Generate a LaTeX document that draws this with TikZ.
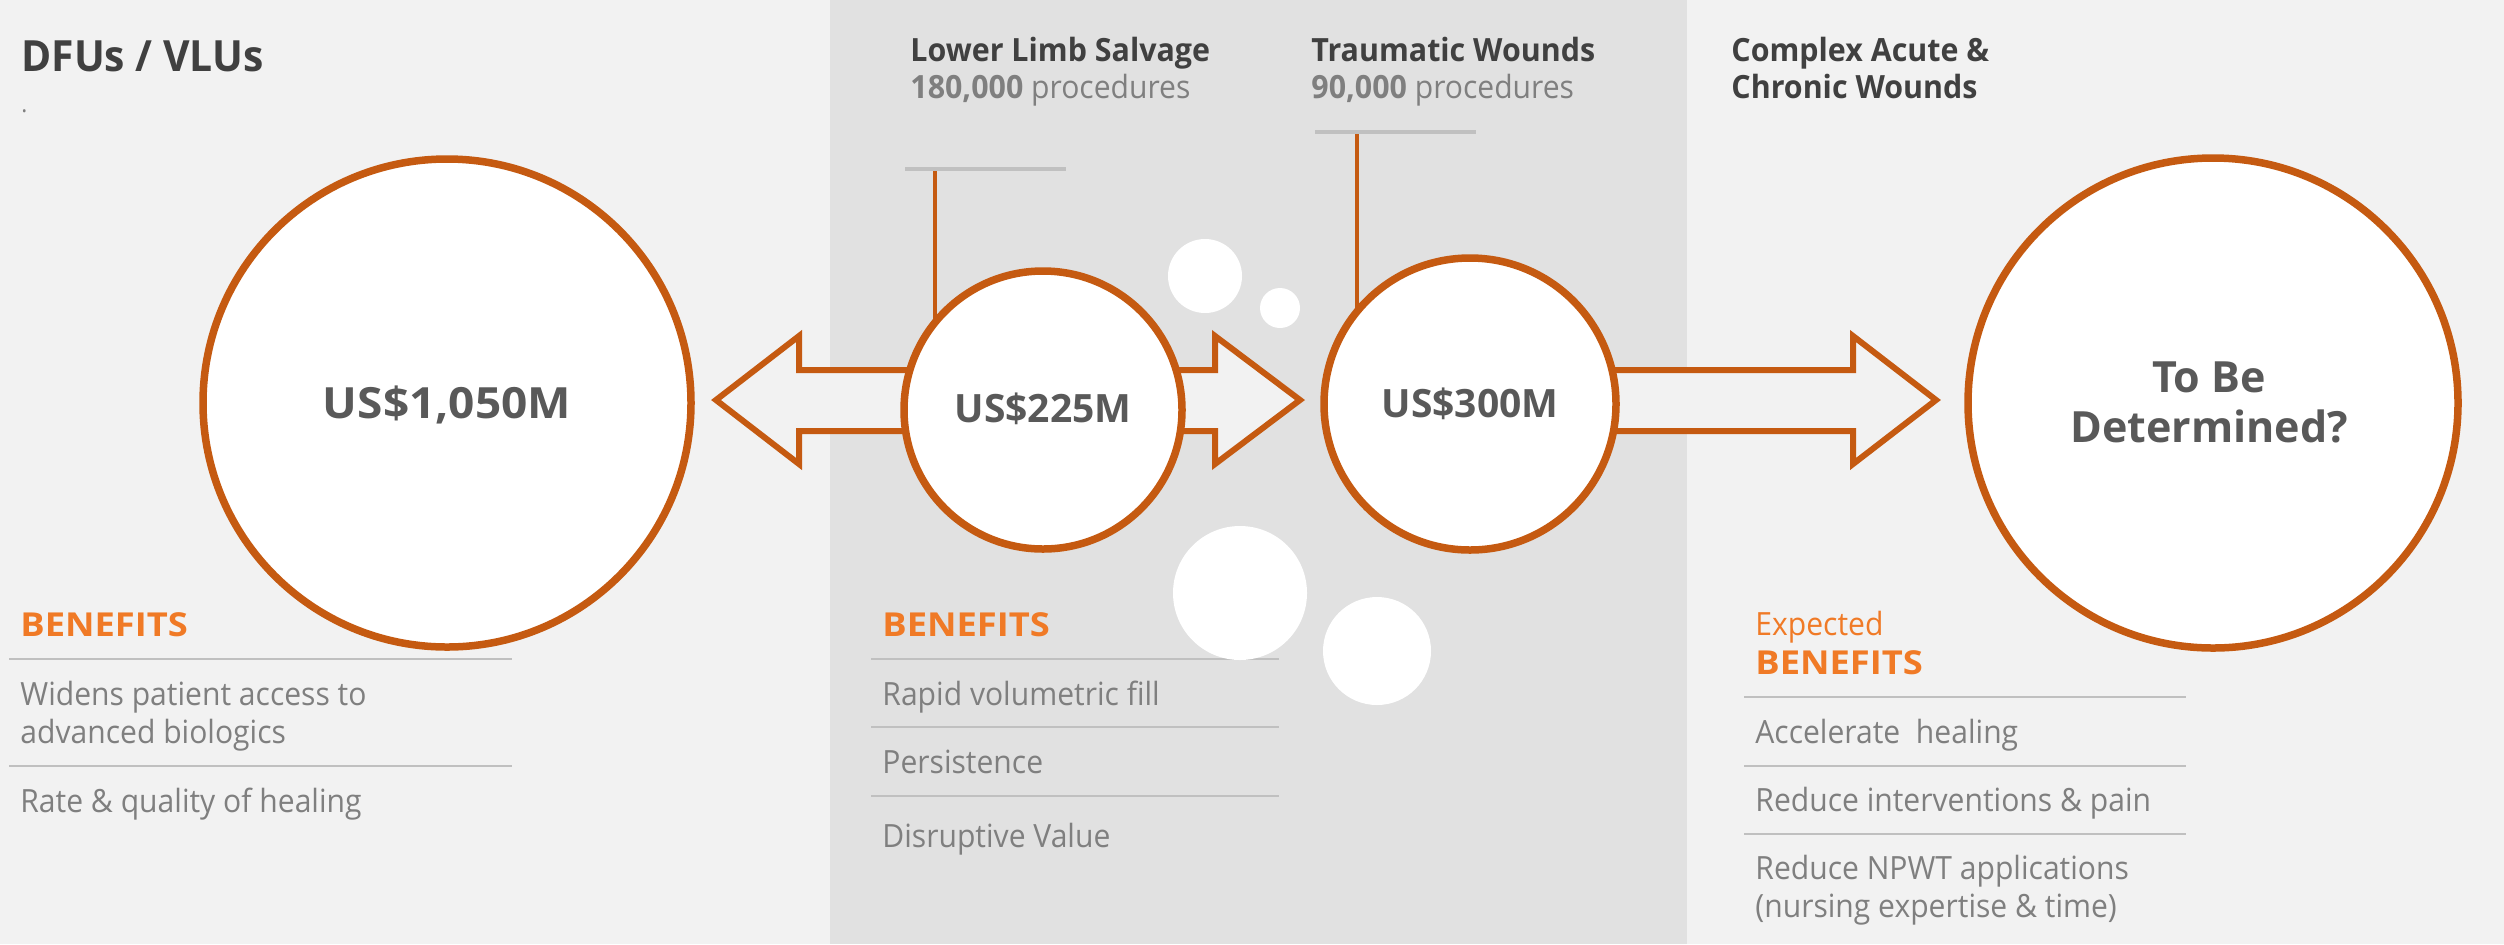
\documentclass[tikz,border=0pt]{standalone}
\usepackage{fontspec}
\setmainfont{Open Sans}
\newfontfamily\bodyf[FakeStretch=0.94]{Open Sans}
\newfontfamily\headf[FakeStretch=0.95]{Open Sans}
\newfontfamily\benf[FakeStretch=1.1]{Open Sans}
\newfontfamily\valf{Open Sans}
\newfontfamily\valwf[FakeStretch=1.07]{Open Sans}
\definecolor{bg}{HTML}{F2F2F2}
\definecolor{band}{HTML}{E1E1E1}
\definecolor{ora}{HTML}{C55A11}
\definecolor{orl}{HTML}{F07A26}
\definecolor{dk}{HTML}{404040}
\definecolor{val}{HTML}{595959}
\definecolor{gr}{HTML}{7F7F7F}
\definecolor{rl}{HTML}{C0C0C0}
\pgfdeclarelayer{back}
\pgfsetlayers{back,main}
\tikzset{
  ring/.style={circle, draw=ora, line width=3.75pt, fill=white, inner sep=0pt},
  bubble/.style={circle, fill=white, inner sep=0pt},
  heading/.style={anchor=base west, inner sep=0pt, text=dk, font=\headf\bfseries\fontsize{16pt}{19pt}\selectfont},
  title/.style={anchor=base west, inner sep=0pt, text=dk, font=\headf\bfseries\fontsize{21.5pt}{25pt}\selectfont},
  body/.style={anchor=base west, inner sep=0pt, text=gr, font=\bodyf\fontsize{16pt}{19pt}\selectfont},
  benef/.style={anchor=base west, inner sep=0pt, text=orl, font=\benf\bfseries\fontsize{16.5pt}{19pt}\selectfont},
  expect/.style={anchor=base west, inner sep=0pt, text=orl, font=\bodyf\fontsize{16pt}{19pt}\selectfont},
  rulel/.style={draw=rl, line width=1.4pt},
  bigval/.style={anchor=base, inner sep=0pt, text=val, font=\valf\bfseries\fontsize{21.5pt}{25pt}\selectfont},
  smallval/.style={anchor=base, inner sep=0pt, text=val, font=\valf\bfseries\fontsize{19.5pt}{23pt}\selectfont},
  bigarrow/.style={draw=ora, line width=3pt, fill=bg, line join=miter},
  stem/.style={draw=ora, line width=2pt},
  tbar/.style={draw=rl, line width=2pt}
}
\begin{document}
\begin{tikzpicture}[x=0.5pt,y=-0.5pt]
\useasboundingbox (0,0) rectangle (2504,944);

% circles
\node[ring, minimum size=244pt] (c1) at (447,403) {};
\node[ring, minimum size=139pt] (c2) at (1043,410) {};
\node[ring, minimum size=146pt] (c3) at (1470,404) {};
\node[ring, minimum size=245pt] (c4) at (2213,403) {};

% values
\node[bigval, font=\valwf\bfseries\fontsize{21.5pt}{25pt}\selectfont] (v1) at (447,418) {US\$1,050M};
\node[smallval] (v2) at (1043,422) {US\$225M};
\node[smallval] (v3) at (1470,417) {US\$300M};
\node[bigval] (v4a) at (2209,392) {To Be};
\node[bigval] (v4b) at (2209,442) {Determined?};

% bubbles
\node[bubble, minimum size=37pt] (u1) at (1205,276) {};
\node[bubble, minimum size=20pt] (u2) at (1280,308) {};
\node[bubble, minimum size=67pt] (u3) at (1240,593) {};
\node[bubble, minimum size=54pt] (u4) at (1377,651) {};

% T-bars
\coordinate (b1l) at (905,169);
\coordinate (b1r) at (1066,169);
\coordinate (b1) at (935,171);
\coordinate (b2l) at (1315,132);
\coordinate (b2r) at (1476,132);
\coordinate (b2) at (1357,134);

% texts top
\node[title] (t1) at (21,71) {DFUs / VLUs};
\node[body, font=\bodyf\fontsize{12pt}{14pt}\selectfont] (t1dot) at (21,112) {.};
\node[heading] (t2) at (910,61) {Lower Limb Salvage};
\node[body] (t2n) at (910,98) {{\headf\bfseries 180,000} procedures};
\node[heading] (t3) at (1311,61) {Traumatic Wounds};
\node[body] (t3n) at (1311,98) {{\headf\bfseries 90,000} procedures};
\node[heading] (t4) at (1731,61) {Complex Acute \&};
\node[heading] (t4b) at (1731,98) {Chronic Wounds};

% benefits left
\node[benef] (l0) at (20,636) {BENEFITS};
\node[body] (l1) at (20,705) {Widens patient access to};
\node[body] (l1b) at (20,743) {advanced biologics};
\node[body] (l2) at (20,812) {Rate \& quality of healing};

% benefits middle
\node[benef] (m0) at (882,636) {BENEFITS};
\node[body] (m1) at (882,705) {Rapid volumetric fill};
\node[body] (m2) at (882,773) {Persistence};
\node[body] (m3) at (882,847) {Disruptive Value};

% benefits right
\node[expect] (r0a) at (1755,635) {Expected};
\node[benef] (r0) at (1755,674) {BENEFITS};
\node[body] (r1) at (1755,743) {Accelerate\ \ healing};
\node[body] (r2) at (1755,811) {Reduce interventions \& pain};
\node[body] (r3) at (1755,879) {Reduce NPWT applications};
\node[body] (r3b) at (1755,917) {(nursing expertise \& time)};

\begin{pgfonlayer}{back}
  \fill[bg] (0,0) rectangle (2504,944);
  \fill[band] (830,0) rectangle (1687,944);
  % rules
  \draw[rulel] (9,659) -- (512,659);
  \draw[rulel] (9,766) -- (512,766);
  \draw[rulel] (871,659) -- (1279,659);
  \draw[rulel] (871,727) -- (1279,727);
  \draw[rulel] (871,796) -- (1279,796);
  \draw[rulel] (1744,697) -- (2186,697);
  \draw[rulel] (1744,766) -- (2186,766);
  \draw[rulel] (1744,834) -- (2186,834);
  % block arrows
  \draw[bigarrow] (716,400) -- (799,336) -- (799,370) -- (1215,370) -- (1215,336)
     -- (1300,400) -- (1215,464) -- (1215,431) -- (799,431) -- (799,464) -- cycle;
  \draw[bigarrow] (1540,370) -- (1853,370) -- (1853,336) -- (1936,400)
     -- (1853,464) -- (1853,431) -- (1540,431) -- cycle;
  % T-bars and stems
  \draw[tbar] (b1l) -- (b1r);
  \draw[tbar] (b2l) -- (b2r);
  \draw[stem] (b1) -- (b1 |- c2.center);
  \draw[stem] (b2) -- (b2 |- c3.center);
\end{pgfonlayer}
\end{tikzpicture}
\end{document}
